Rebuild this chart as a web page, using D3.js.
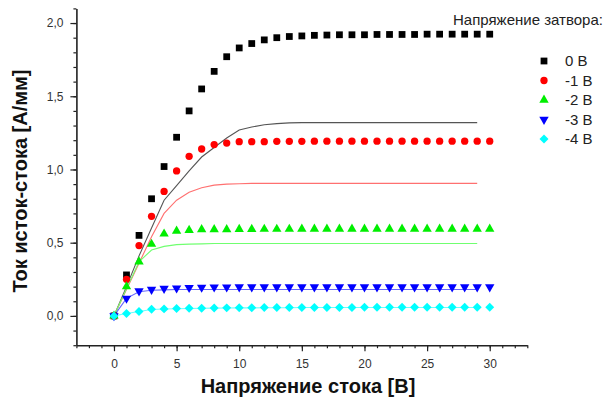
<!DOCTYPE html>
<html>
<head>
<meta charset="utf-8">
<script src="https://cdn.jsdelivr.net/npm/d3@7"></script>
<style>
  body { margin: 0; background: #fff; }
</style>
</head>
<body>
<div id="chart-area"></div>
<script>
// drain voltage, V (measurement points)
var vds = [0, 1, 2, 3, 4, 5, 6, 7, 8, 9, 10, 11, 12, 13, 14, 15, 16, 17, 18, 19, 20,
           21, 22, 23, 24, 25, 26, 27, 28, 29, 30];
// drain voltage for the simulated curves
var vdsSim = [0, 1, 2, 3, 4, 5, 6, 7, 8, 9, 10, 11, 12, 13, 14, 15, 16, 17, 18, 19, 20,
              21, 22, 23, 24, 25, 26, 27, 28, 29];

var gateLabels = ["0 В", "-1 В", "-2 В", "-3 В", "-4 В"];

// measured drain current, A/mm
var id0 = [0, 0.28, 0.55, 0.80, 1.02, 1.22, 1.40, 1.55, 1.67, 1.77, 1.83, 1.86, 1.885, 1.90, 1.908, 1.912,
           1.916, 1.918, 1.92, 1.92, 1.92, 1.922, 1.922, 1.922, 1.922, 1.924, 1.924, 1.924, 1.924, 1.924, 1.924];
var id1 = [0, 0.25, 0.48, 0.68, 0.85, 0.99, 1.09, 1.14, 1.17, 1.18, 1.19, 1.19, 1.19, 1.192, 1.192, 1.192,
           1.193, 1.193, 1.193, 1.193, 1.193, 1.193, 1.193, 1.193, 1.193, 1.193, 1.193, 1.193, 1.193, 1.193, 1.193];
var id2 = [0, 0.20, 0.37, 0.49, 0.56, 0.58, 0.585, 0.59, 0.59, 0.59, 0.592, 0.592, 0.593, 0.593, 0.593, 0.594,
           0.594, 0.594, 0.594, 0.594, 0.594, 0.594, 0.594, 0.594, 0.594, 0.594, 0.594, 0.594, 0.594, 0.594, 0.594];
var id3 = [0, 0.12, 0.17, 0.18, 0.187, 0.19, 0.193, 0.195, 0.196, 0.196, 0.197, 0.197, 0.197, 0.197, 0.197, 0.197,
           0.197, 0.197, 0.197, 0.197, 0.197, 0.197, 0.197, 0.197, 0.197, 0.197, 0.197, 0.197, 0.197, 0.197, 0.197];
var id4 = [0, 0.016, 0.03, 0.045, 0.048, 0.05, 0.052, 0.053, 0.054, 0.055, 0.056, 0.056, 0.057, 0.057, 0.057, 0.058,
           0.058, 0.058, 0.058, 0.058, 0.059, 0.059, 0.059, 0.059, 0.059, 0.059, 0.059, 0.059, 0.059, 0.059, 0.059];

// simulated drain current, A/mm
var sim0 = [0, 0.2, 0.41, 0.6, 0.79, 0.89, 0.99, 1.085, 1.15, 1.215, 1.27, 1.29, 1.305, 1.313, 1.318,
            1.32, 1.32, 1.32, 1.32, 1.32, 1.32, 1.32, 1.32, 1.32, 1.32, 1.32, 1.32, 1.32, 1.32, 1.32];
var sim1 = [0, 0.18, 0.36, 0.54, 0.70, 0.79, 0.845, 0.875, 0.893, 0.90, 0.903, 0.905, 0.905, 0.905, 0.905,
            0.905, 0.905, 0.905, 0.905, 0.905, 0.905, 0.905, 0.905, 0.905, 0.905, 0.905, 0.905, 0.905, 0.905, 0.905];
var sim2 = [0, 0.185, 0.37, 0.45, 0.475, 0.487, 0.49, 0.492, 0.494, 0.495, 0.495, 0.495, 0.495, 0.495, 0.495,
            0.495, 0.495, 0.495, 0.495, 0.495, 0.495, 0.495, 0.495, 0.495, 0.495, 0.495, 0.495, 0.495, 0.495, 0.495];
var sim3 = [0, 0.12, 0.165, 0.175, 0.178, 0.18, 0.18, 0.18, 0.18, 0.18, 0.18, 0.18, 0.18, 0.18, 0.18,
            0.18, 0.18, 0.18, 0.18, 0.18, 0.18, 0.18, 0.18, 0.18, 0.18, 0.18, 0.18, 0.18, 0.18, 0.18];
var sim4 = [0, 0.016, 0.03, 0.044, 0.047, 0.049, 0.051, 0.052, 0.053, 0.054, 0.055, 0.055, 0.056, 0.056, 0.056,
            0.057, 0.057, 0.057, 0.057, 0.057, 0.057, 0.057, 0.057, 0.057, 0.057, 0.057, 0.057, 0.057, 0.057, 0.057];

var xTicks = [0, 5, 10, 15, 20, 25, 30];
var yTicks = [0, 0.5, 1.0, 1.5, 2.0];

var measured = [id0, id1, id2, id3, id4];
var simulated = [sim0, sim1, sim2, sim3, sim4];

var markerColors = ["#000000", "#ff0000", "#00ee00", "#0000ff", "#00ffff"];
var lineColors   = ["#555555", "#ff7070", "#70ff70", "#6666ff", "#66ffff"];
var symbols = [
    { type: d3.symbolSquare,   size: 46, rot: 0 },
    { type: d3.symbolCircle,   size: 42, rot: 0 },
    { type: d3.symbolTriangle, size: 38, rot: 0 },
    { type: d3.symbolTriangle, size: 38, rot: 180 },
    { type: d3.symbolSquare,   size: 40, rot: 45 }
];

var svgWidth  = 613;
var svgHeight = 403;

var svg = d3.select("#chart-area")
            .append("svg")
            .attr("width", svgWidth)
            .attr("height", svgHeight);

var x = d3.scaleLinear()
          .domain([-3, 33])
          .range([76.4, 527.3]);

var y = d3.scaleLinear()
          .domain([-0.2, 2.1])
          .range([345.2, 8.4]);

var fmt = (d) => d3.format(".1f")(d).replace(".", ",");

// minor ticks
svg.append("g")
   .attr("transform", "translate(0," + y(-0.2) + ")")
   .call(d3.axisBottom(x).tickValues(d3.range(-3, 34, 1)).tickSize(3).tickFormat(""))
   .call((g) => g.select(".domain").remove());
svg.append("g")
   .attr("transform", "translate(" + x(-3) + ",0)")
   .call(d3.axisLeft(y).tickValues(d3.range(-2, 22, 1).map((d) => d / 10)).tickSize(3).tickFormat(""))
   .call((g) => g.select(".domain").remove());

// major axes
var xAxisGroup = svg.append("g")
                    .attr("transform", "translate(0," + y(-0.2) + ")")
                    .call(d3.axisBottom(x).tickValues(xTicks).tickSize(6).tickSizeOuter(0).tickPadding(8));
var yAxisGroup = svg.append("g")
                    .attr("transform", "translate(" + x(-3) + ",0)")
                    .call(d3.axisLeft(y).tickValues(yTicks).tickSize(6).tickSizeOuter(0).tickPadding(7).tickFormat(fmt));

svg.selectAll(".domain").attr("stroke", "#222").attr("stroke-width", 1.6);
svg.selectAll(".tick line").attr("stroke", "#222").attr("stroke-width", 1.2);
svg.selectAll(".tick text")
   .attr("font-family", "Arial")
   .attr("font-size", "12px")
   .attr("fill", "#333");

// simulated curves
var line = d3.line()
             .x((d) => x(d[0]))
             .y((d) => y(d[1]));

simulated.forEach((s, i) => {
    svg.append("path")
       .datum(vdsSim.map((v, j) => [v, s[j]]))
       .attr("fill", "none")
       .attr("stroke", lineColors[i])
       .attr("stroke-width", 1.1)
       .attr("d", line);
});

// measured points
measured.forEach((s, i) => {
    var sym = d3.symbol().type(symbols[i].type).size(symbols[i].size);
    svg.append("g")
       .selectAll("path")
       .data(vds.map((v, j) => [v, s[j]]))
       .enter()
       .append("path")
       .attr("d", sym)
       .attr("fill", markerColors[i])
       .attr("transform", (d) => "translate(" + x(d[0]) + "," + y(d[1]) + ") rotate(" + symbols[i].rot + ")");
});

// axis titles
svg.append("text")
   .attr("x", 308)
   .attr("y", 393)
   .attr("text-anchor", "middle")
   .attr("font-family", "Arial")
   .attr("font-size", "20px")
   .attr("font-weight", "bold")
   .attr("fill", "#111")
   .text("Напряжение стока [В]");

svg.append("g")
   .attr("transform", "translate(27, 181)")
   .append("text")
   .attr("text-anchor", "middle")
   .attr("transform", "rotate(-90)")
   .attr("font-family", "Arial")
   .attr("font-size", "20px")
   .attr("font-weight", "bold")
   .attr("fill", "#111")
   .text("Ток исток-стока [А/мм]");

// legend
svg.append("text")
   .attr("x", 453)
   .attr("y", 25)
   .attr("font-family", "Arial")
   .attr("font-size", "15px")
   .attr("fill", "#222")
   .text("Напряжение затвора:");

var legend = svg.append("g");
gateLabels.forEach((lab, i) => {
    var ly = 61 + i * 19.5;
    legend.append("path")
          .attr("d", d3.symbol().type(symbols[i].type).size(symbols[i].size)())
          .attr("fill", markerColors[i])
          .attr("transform", "translate(544," + ly + ") rotate(" + symbols[i].rot + ")");
    legend.append("text")
          .attr("x", 565)
          .attr("y", ly + 5)
          .attr("font-family", "Arial")
          .attr("font-size", "15px")
          .attr("fill", "#222")
          .text(lab);
});
</script>
</body>
</html>
